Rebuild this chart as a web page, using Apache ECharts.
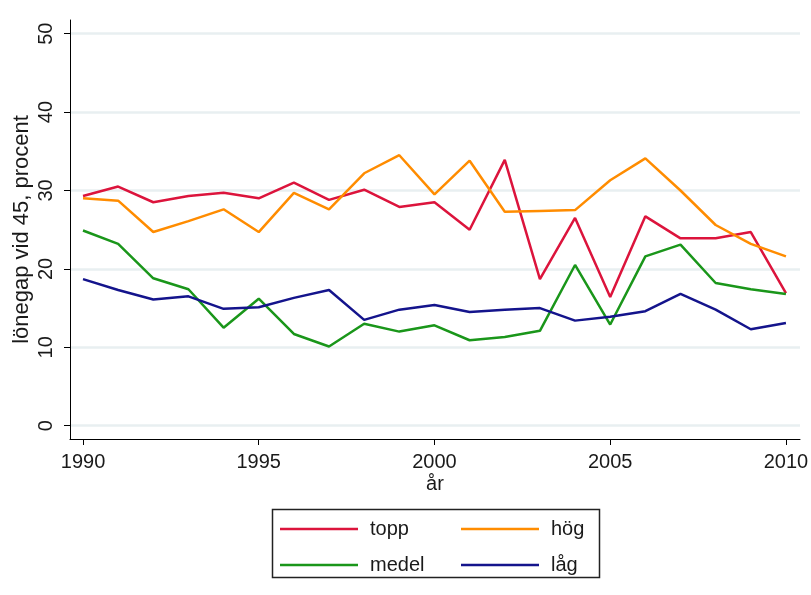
<!DOCTYPE html>
<html>
<head>
<meta charset="utf-8">
<script src="https://cdn.jsdelivr.net/npm/echarts@6/dist/echarts.min.js"></script>
<style>
html,body{margin:0;padding:0;background:#fff;}
#chart{width:811px;height:595px;}
</style>
</head>
<body>
<div id="chart"></div>
<script>
var years = [1990,1991,1992,1993,1994,1995,1996,1997,1998,1999,2000,2001,2002,2003,2004,2005,2006,2007,2008,2009,2010];
var topp  = [29.3,30.5,28.5,29.3,29.7,29.0,31.0,28.8,30.1,27.9,28.5,25.0,33.9,18.7,26.5,16.4,26.7,23.9,23.9,24.7,16.9];
var hog   = [29.0,28.7,24.7,26.1,27.6,24.7,29.7,27.6,32.2,34.5,29.5,33.8,27.3,27.4,27.5,31.3,34.1,30.0,25.6,23.2,21.6];
var medel = [24.9,23.2,18.8,17.4,12.5,16.2,11.7,10.1,13.0,12.0,12.8,10.9,11.3,12.1,20.5,12.9,21.6,23.1,18.2,17.4,16.8];
var lag   = [18.7,17.3,16.1,16.5,14.9,15.1,16.3,17.3,13.5,14.8,15.4,14.5,14.8,15.0,13.4,13.9,14.6,16.8,14.8,12.3,13.1];
var xTicks = [1990,1995,2000,2005,2010];
var yTicks = [0,10,20,30,40,50];
var seriesNames = ['topp','hög','medel','låg'];
var seriesColors = ['#dc143c','#ff8c00','#1a961a','#14148c'];

function pairs(vals){ return years.map(function(y,i){ return [y, vals[i]]; }); }
var allVals = [topp, hog, medel, lag];

var FONT = 'Liberation Sans, Arial, sans-serif';
var chart = echarts.init(document.getElementById('chart'), null, {renderer:'canvas'});
var option = {
  backgroundColor:'#ffffff',
  animation:false,
  grid:{left:70, right:11, top:20, bottom:156, containLabel:false, outerBoundsMode:'none'},
  xAxis:{
    type:'value', min:1989.63, max:2010.4,
    name:'år', nameLocation:'middle', nameGap:35, nameMoveOverlap:false,
    nameTextStyle:{fontFamily:FONT, fontSize:20, color:'#1a1a1a'},
    axisLine:{onZero:false, lineStyle:{color:'#000', width:1}},
    axisTick:{show:true, length:6, customValues:xTicks, lineStyle:{color:'#000'}},
    axisLabel:{customValues:xTicks, margin:13, fontFamily:FONT, fontSize:20, color:'#1a1a1a',
               formatter:function(v){ return String(v); }},
    splitLine:{show:false}
  },
  yAxis:{
    type:'value', min:-1.7, max:51.75,
    name:'lönegap vid 45, procent', nameLocation:'middle', nameGap:37, nameMoveOverlap:false,
    nameTextStyle:{fontFamily:FONT, fontSize:22, color:'#1a1a1a'},
    axisLine:{show:true, onZero:false, lineStyle:{color:'#000', width:1}},
    axisTick:{show:true, length:6, customValues:yTicks, lineStyle:{color:'#000'}},
    axisLabel:{customValues:yTicks, rotate:90, margin:14, fontFamily:FONT, fontSize:20, color:'#1a1a1a'},
    splitLine:{show:true, lineStyle:{color:'#e8eff1', width:2.5}}
  },
  legend:[
    {data:['topp','medel'], orient:'vertical', left:280, top:519, padding:0,
     itemWidth:78, itemHeight:14, itemGap:16, icon:'path://M0,0 L78,0 L78,2.5 L0,2.5 Z',
     textStyle:{fontFamily:FONT, fontSize:20, color:'#1a1a1a', padding:[0,0,0,7]}},
    {data:['hög','låg'], orient:'vertical', left:461, top:519, padding:0,
     itemWidth:78, itemHeight:14, itemGap:16, icon:'path://M0,0 L78,0 L78,2.5 L0,2.5 Z',
     textStyle:{fontFamily:FONT, fontSize:20, color:'#1a1a1a', padding:[0,0,0,7]}}
  ],
  graphic:[{type:'rect', left:270, top:507, shape:{width:327, height:68},
            style:{fill:'none', stroke:'#222', lineWidth:1.5}, z:-1}],
  series: seriesNames.map(function(n,i){
    return {name:n, type:'line', data:pairs(allVals[i]), symbol:'none', showSymbol:false,
            lineStyle:{color:seriesColors[i], width:2.5}, itemStyle:{color:seriesColors[i]}};
  })
};
chart.setOption(option);
</script>
</body>
</html>
